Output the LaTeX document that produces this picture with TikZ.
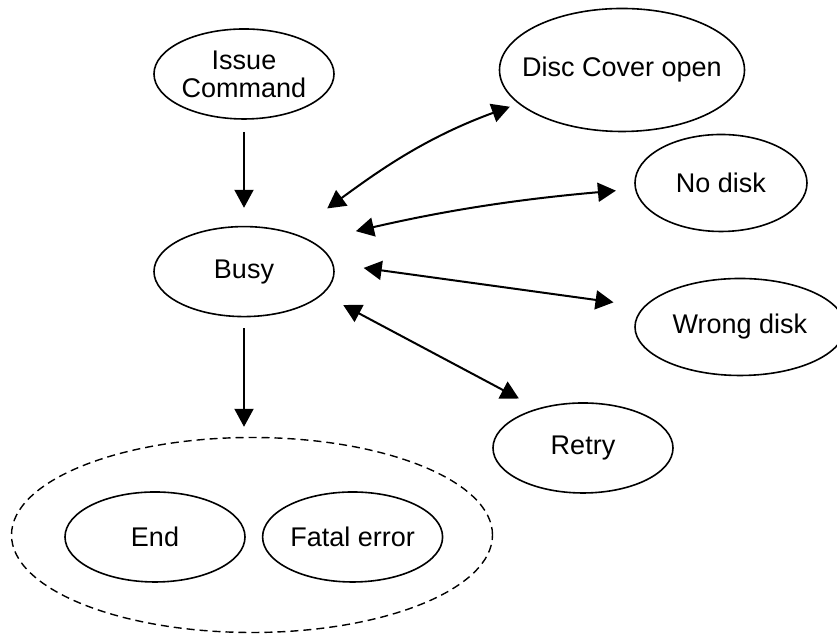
\documentclass[tikz,border=0pt]{standalone}
\usepackage{fontspec}
\setmainfont{Liberation Sans}
\usetikzlibrary{arrows.meta,positioning,shapes.geometric}

\begin{document}
\begin{tikzpicture}[x=0.5pt,y=0.5pt, every node/.style={font=\fontsize{13.5}{14}\selectfont}, st/.style={draw,ellipse,line width=0.8pt,inner sep=0pt,minimum width=90pt,minimum height=45pt,align=center}, ar/.style={-{Triangle[length=9pt,width=9.5pt]},line width=1pt}, dar/.style={{Triangle[length=9pt,width=9.5pt]}-{Triangle[length=9pt,width=9.5pt]},line width=1pt}]
\useasboundingbox (0,0) rectangle (837,635);
\node[st] (ic) at (244,561) {Issue\\Command};
\node[st,below=53pt of ic] (busy) {Busy};
\node[st,minimum width=122.5pt,minimum height=61.5pt,inner xsep=-8pt] (dco) at (622,565) {Disc Cover open};
\node[st,minimum width=86pt,minimum height=48.5pt] (nd) at (721,452) {No disk};
\node[st,minimum width=105pt,minimum height=48.5pt] (wd) at (740,308) {Wrong disk};
\node[st] (retry) at (583,187) {Retry};
\node[draw,ellipse,dash pattern=on 4pt off 2.5pt,line width=0.7pt,minimum width=240.5pt,minimum height=97.5pt] (fin) at (252,100) {};
\node[st] (end) at (155,98) {End};
\node[st,right=8pt of end] (fe) {Fatal error};
\draw[ar,shorten <=6pt,shorten >=9pt] (ic) -- (busy);
\draw[ar,shorten <=5.5pt,shorten >=5pt] (busy.south) -- (fin.north -| busy);
\draw[dar,shorten <=21pt,shorten >=4.5pt] (busy.38) to[out=36,in=200] (dco.198);
\draw[dar,shorten <=22.5pt,shorten >=9.5pt] (busy.24) to[out=13,in=185] (nd.184);
\draw[dar,shorten <=15.25pt,shorten >=15.25pt] (busy.5) -- (wd.168);
\draw[dar,shorten <=11.5pt,shorten >=10.5pt] (busy.344) -- (retry.139);
\end{tikzpicture}
\end{document}
